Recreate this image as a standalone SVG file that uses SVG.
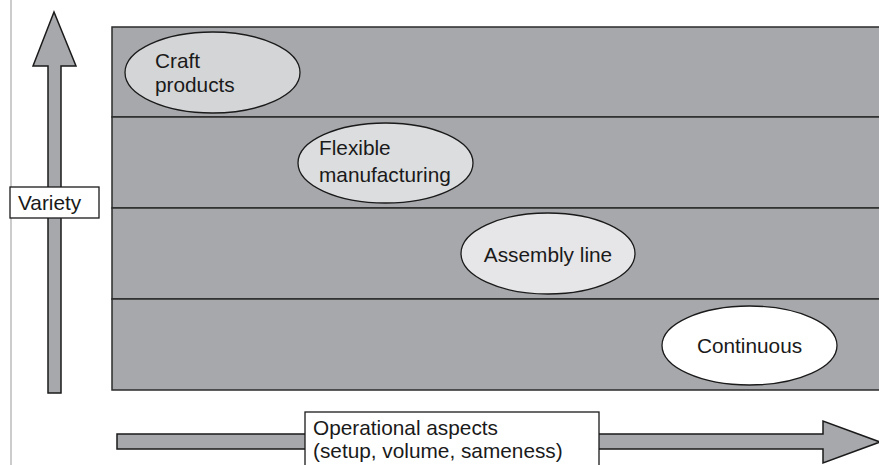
<svg xmlns="http://www.w3.org/2000/svg" width="879" height="465" viewBox="0 0 879 465">
<style>
.t{font-family:"Liberation Sans",Arial,sans-serif;font-size:20.8px;fill:#1a1a1a}
.band{fill:#a7a8ab;stroke:#2b2b2b;stroke-width:1.5}
.arrow{fill:#a7a8ab;stroke:#1a1a1a;stroke-width:1.5;stroke-linejoin:miter}
.ell{stroke:#1a1a1a;stroke-width:1.3}
.box{fill:#ffffff;stroke:#1a1a1a;stroke-width:1.3}
</style>
<rect width="879" height="465" fill="#ffffff"/>
<line x1="11" y1="0" x2="11" y2="465" stroke="#aaaaaa" stroke-width="1.2"/>
<g id="bands">
<rect class="band" x="112" y="27" width="780" height="90"/>
<rect class="band" x="112" y="117" width="780" height="91"/>
<rect class="band" x="112" y="208" width="780" height="91"/>
<rect class="band" x="112" y="299" width="780" height="91"/>
</g>
<g id="connectors">
<polygon class="arrow" points="48,393 48,66 33,66 54,12 76,66 61,66 61,393"/>
<polygon class="arrow" points="117,434 823,434 823,421 880,442 823,463 823,449 117,449"/>
</g>
<g id="variety">
<rect class="box" x="10" y="187" width="89" height="31"/>
<text class="t" x="18" y="210">Variety</text>
</g>
<g id="operational">
<rect class="box" x="305" y="412" width="294" height="60"/>
<text class="t" x="313" y="435">Operational aspects</text>
<text class="t" x="313" y="458">(setup, volume, sameness)</text>
</g>
<g id="craft">
<ellipse class="ell" cx="212.5" cy="72.5" rx="87.5" ry="40.5" fill="#d4d5d7"/>
<text class="t" x="155" y="68">Craft</text>
<text class="t" x="155" y="92">products</text>
</g>
<g id="flexible">
<ellipse class="ell" cx="385.5" cy="163" rx="87.5" ry="40" fill="#dcdddf"/>
<text class="t" x="319" y="155">Flexible</text>
<text class="t" x="319" y="182">manufacturing</text>
</g>
<g id="assembly">
<ellipse class="ell" cx="548" cy="253.5" rx="87" ry="40.5" fill="#e6e6e8"/>
<text class="t" x="548" y="262" text-anchor="middle">Assembly line</text>
</g>
<g id="continuous">
<ellipse class="ell" cx="749.5" cy="345.5" rx="87.5" ry="39.5" fill="#ffffff"/>
<text class="t" x="749.5" y="353" text-anchor="middle">Continuous</text>
</g>
</svg>
